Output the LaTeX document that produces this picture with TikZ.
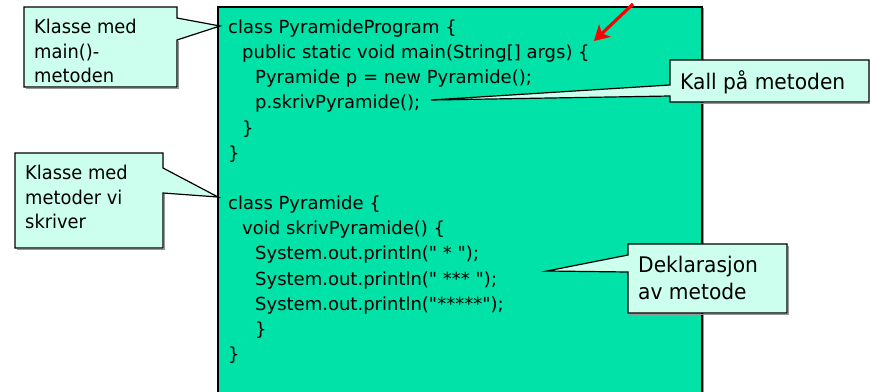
\documentclass[tikz,border=0pt]{standalone}
\usepackage{fontspec}
\setmainfont{DejaVu Sans}
% plain family for the listing: keeps straight quotes
\newfontfamily\codefont{DejaVu Sans}
\newfontfamily\notefont{DejaVu Sans}[FakeStretch=0.94]
\usetikzlibrary{arrows.meta}
\definecolor{codegreen}{RGB}{0,226,168}
\definecolor{notefill}{RGB}{204,255,238}
\definecolor{shadowgray}{RGB}{150,150,150}
\tikzset{
  codeline/.style={anchor=base west, inner sep=0pt, font=\codefont\fontsize{18}{22}\selectfont},
  notetext/.style={anchor=base west, inner sep=0pt, font=\notefont\fontsize{19}{22}\selectfont},
  bignote/.style={anchor=base west, inner sep=0pt, font=\notefont\fontsize{21.5}{24}\selectfont},
  notebox/.style={draw=black, line width=1.2pt, fill=notefill, line join=miter},
  noteshadow/.style={draw=shadowgray, line width=1.2pt, line join=miter},
  markarrow/.style={draw=red, line width=3.2pt, -{Stealth[length=15pt, width=17pt, inset=4pt]}}
}
\begin{document}
\begin{tikzpicture}[x=1pt, y=-1pt]
\useasboundingbox (0,0) rectangle (870,391);
\clip (0,0) rectangle (870,391);

% program listing panel
\draw[shadowgray, line width=1.2pt] (219.5,8.5) rectangle (703.5,400);
\draw[black, line width=1.2pt, fill=codegreen] (218,7) rectangle (702,400);

% listing
\node[codeline] (c1)  at (228,33)  {class PyramideProgram \{};
\node[codeline] (c2)  at (242,58)  {public static void main(String[] args) \{};
\node[codeline] (c3)  at (255,83)  {Pyramide p = new Pyramide();};
\node[codeline] (c4)  at (255,108) {p.skrivPyramide();};
\node[codeline] (c5)  at (242,134) {\}};
\node[codeline] (c6)  at (228,159) {\}};
\node[codeline] (c7)  at (228,209) {class Pyramide \{};
\node[codeline] (c8)  at (242,234) {void skrivPyramide() \{};
\node[codeline] (c9)  at (255,259) {System.out.println(" * ");};
\node[codeline] (c10) at (255,285) {System.out.println(" *** ");};
\node[codeline] (c11) at (255,310) {System.out.println("*****");};
\node[codeline] (c12) at (255,335) {\}};
\node[codeline] (c13) at (228,360) {\}};

% callout: class with main()
\coordinate (t1) at (220,26);
\draw[noteshadow] (178.5,41) -- (178.5,88.5) -- (25.5,88.5);
\draw[notebox] (24,7) -- (177,7) -- (177,18) -- (t1) -- (177,40) -- (177,87) -- (24,87) -- cycle;
\node[notetext] (n1a) at (34,33) {Klasse med};
\node[notetext] (n1b) at (34,58) {main()-};
\node[notetext] (n1c) at (34,82) {metoden};

% callout: class with our methods
\coordinate (t2) at (218,197);
\draw[noteshadow] (164.5,194) -- (164.5,249.5) -- (16.5,249.5);
\draw[notebox] (15,153) -- (163,153) -- (163,168) -- (t2) -- (163,193) -- (163,248) -- (15,248) -- cycle;
\node[notetext] (n2a) at (25,179) {Klasse med};
\node[notetext] (n2b) at (25,204) {metoder vi};
\node[notetext] (n2c) at (25,228) {skriver};

% callout: method call
\coordinate (t3) at (431,100);
\draw[noteshadow] (870.5,61.5) -- (870.5,103.5) -- (671.5,103.5);
\draw[notebox] (670,60) -- (869,60) -- (869,102) -- (670,102) -- (670,96) -- (t3) -- (670,85) -- cycle;
\node[bignote] (n3) at (680,89) {Kall på metoden};

% callout: method declaration
\coordinate (t4) at (547,271);
\draw[noteshadow] (788.5,245.5) -- (788.5,314.5) -- (629.5,314.5);
\draw[notebox] (628,244) -- (787,244) -- (787,313) -- (628,313) -- (628,272) -- (t4) -- (628,255) -- cycle;
\node[bignote] (n4a) at (638,272) {Deklarasjon};
\node[bignote] (n4b) at (638,299) {av metode};

% marker arrow
\coordinate (a0) at (633,4);
\coordinate (a1) at (594,41);
\draw[markarrow] (a0) -- (a1);
\end{tikzpicture}
\end{document}
